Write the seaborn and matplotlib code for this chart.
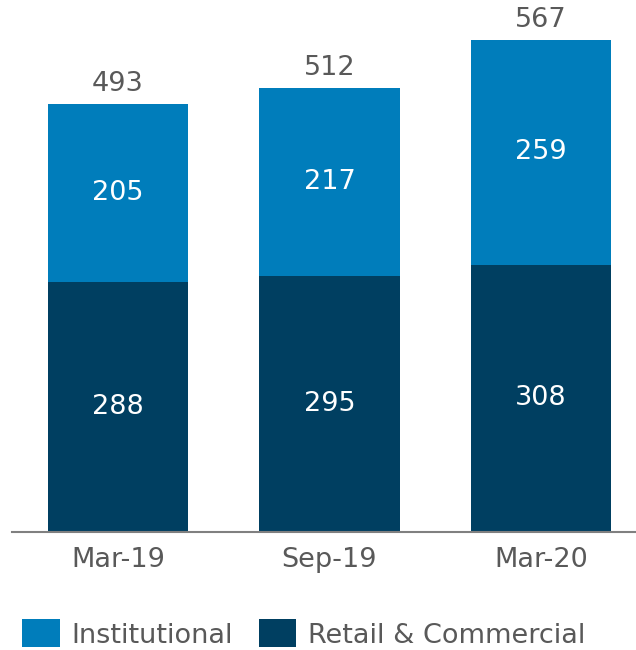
import pandas as pd
import matplotlib.pyplot as plt
import seaborn as sns

# data
periods = ["Mar-19", "Sep-19", "Mar-20"]
retail = [288, 295, 308]
institutional = [205, 217, 259]
totals = [493, 512, 567]

light_blue = "#007dbb"
dark_blue = "#003f61"
gray = "#595959"

df = pd.DataFrame({"period": periods, "retail": retail,
                   "institutional": institutional, "total": totals})

sns.set_style("white")
plt.rcParams["font.family"] = ["DejaVu Sans"]

fig = plt.figure(figsize=(6.36, 6.5), dpi=100)
ax = fig.add_axes([12 / 636, 1 - 532 / 650, 624 / 636, 532 / 650])

# stacked bars: total drawn first, retail on top of it
sns.barplot(data=df, x="period", y="total", color=light_blue, width=0.662,
            saturation=1, linewidth=0, ax=ax, label="Institutional")
sns.barplot(data=df, x="period", y="retail", color=dark_blue, width=0.662,
            saturation=1, linewidth=0, ax=ax, label="Retail & Commercial")

fs = 19.5
for i, row in df.iterrows():
    ax.text(i, row["retail"] / 2, str(row["retail"]), ha="center", va="center",
            color="white", fontsize=fs)
    ax.text(i, row["retail"] + row["institutional"] / 2, str(row["institutional"]),
            ha="center", va="center", color="white", fontsize=fs)
    ax.annotate(str(row["total"]), (i, row["total"]), xytext=(0, 5),
                textcoords="offset points", ha="center", va="bottom",
                color=gray, fontsize=fs)

ax.set_xlim(-0.501, 2.449)
ax.set_ylim(0, 613)
ax.set_xlabel("")
ax.set_ylabel("")
ax.set_yticks([])
ax.tick_params(axis="x", length=0, pad=11, labelsize=fs, labelcolor=gray)
for side in ["top", "right", "left"]:
    ax.spines[side].set_visible(False)
ax.spines["bottom"].set_color("#808080")
ax.spines["bottom"].set_linewidth(1.5)

handles, labels = ax.get_legend_handles_labels()
if ax.legend_:
    ax.legend_.remove()
fig.legend(handles, labels, loc="center left", bbox_to_anchor=(22 / 636, 1 - 634 / 650),
           ncol=2, frameon=False, fontsize=fs, labelcolor=gray,
           handlelength=1.4, handleheight=1.21, handletextpad=0.42,
           columnspacing=0.95, borderaxespad=0, borderpad=0)

fig.savefig("out.png", dpi=100)
